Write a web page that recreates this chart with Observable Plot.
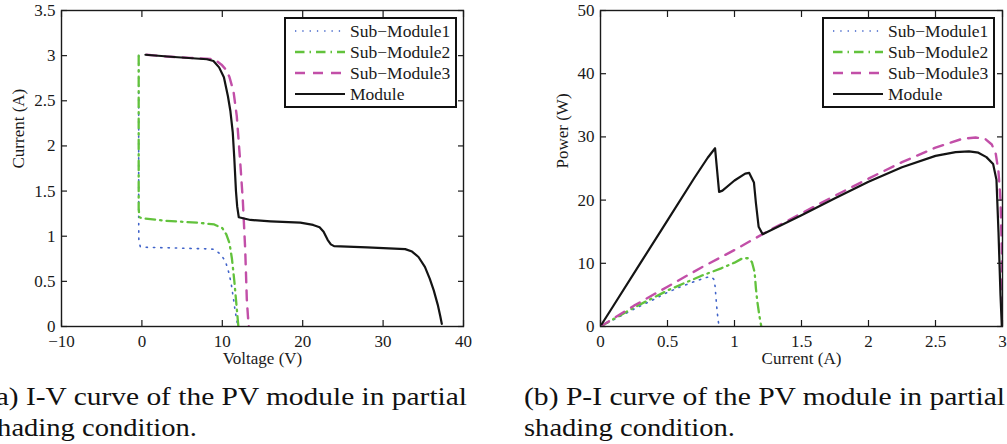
<!DOCTYPE html>
<html><head><meta charset="utf-8">
<script src="https://cdn.jsdelivr.net/npm/d3@7"></script>
<script src="https://cdn.jsdelivr.net/npm/@observablehq/plot@0.6"></script>
<style>
body{margin:0;background:#fff}
#wrap{position:relative;width:1007px;height:444px;overflow:hidden;background:#fff}
.chart{position:absolute;top:0}
#overlay{position:absolute;left:0;top:0}
</style></head><body>
<div id="wrap">
<div id="left" class="chart" style="left:0"></div>
<div id="right" class="chart" style="left:500px"></div>
<svg id="overlay" width="1007" height="444"></svg>
</div>
<script>
// ---- data ----
const seriesNames = ["Sub\u2212Module1", "Sub\u2212Module2", "Sub\u2212Module3", "Module"];

// I-V curves: [voltage (V), current (A)]
const ivSub1 = [[-0.4,3.0],[-0.4,2.0],[-0.4,1.2],[-0.38,0.95],[-0.2,0.885],[0,0.878],[4,0.87],[8,0.86],[9,0.855],[9.8,0.8],[10.4,0.72],[10.8,0.6],[11.1,0.48],[11.4,0.3],[11.6,0.17],[11.8,0.07],[11.9,0.02]];
const ivSub2 = [[-0.4,3.0],[-0.4,2.0],[-0.4,1.3],[-0.3,1.21],[0,1.2],[3,1.17],[7,1.15],[9,1.13],[10,1.09],[10.5,1.02],[10.9,0.92],[11.2,0.75],[11.5,0.5],[11.75,0.25],[11.95,0.05],[12.0,0.0]];
const ivSub3 = [[0.6,3.01],[3,2.99],[6,2.975],[9,2.96],[9.9,2.9],[10.5,2.84],[10.9,2.76],[11.4,2.6],[11.8,2.33],[12.2,1.86],[12.55,1.4],[12.85,0.85],[13.05,0.3],[13.2,0.1],[13.3,0.0]];
const ivModule = [[0.44,3.01],[4,2.985],[8.1,2.96],[8.9,2.94],[9.6,2.87],[10.2,2.76],[10.7,2.55],[11.0,2.39],[11.3,2.15],[11.5,1.85],[11.7,1.5],[11.85,1.33],[12.05,1.21],[13.5,1.18],[16,1.165],[19.7,1.15],[21.3,1.125],[22.1,1.1],[22.6,1.05],[23.1,0.96],[23.5,0.91],[23.9,0.89],[28,0.876],[32.75,0.857],[33.6,0.83],[34.4,0.77],[35.2,0.66],[35.8,0.53],[36.3,0.4],[36.8,0.24],[37.1,0.12],[37.3,0.03]];

// P-I curves: [current (A), power (W)]
const piSub1 = [[0,0],[0.1,1.1],[0.25,2.75],[0.4,4.3],[0.5,5.4],[0.6,6.3],[0.7,7.1],[0.78,7.7],[0.82,7.9],[0.845,7.5],[0.855,6.4],[0.862,4.5],[0.87,2.5],[0.878,1.0],[0.885,0]];
const piSub2 = [[0,0],[0.25,3.0],[0.5,5.7],[0.75,8.0],[0.9,9.2],[1.0,10.1],[1.06,10.8],[1.1,10.8],[1.13,10.2],[1.15,8.6],[1.16,6.0],[1.17,4.0],[1.185,1.8],[1.2,0]];
const piSub3 = [[0,0],[0.25,3.3],[0.5,6.3],[0.75,9.3],[1.0,12.1],[1.25,15.1],[1.5,17.9],[1.75,20.7],[2.0,23.4],[2.25,26.0],[2.5,28.3],[2.7,29.7],[2.8,29.9],[2.87,29.7],[2.92,28.8],[2.95,27.3],[2.97,24.5],[2.985,20],[2.995,12],[3.0,0]];
const piModule = [[0.01,0.4],[0.1,3.4],[0.3,10.1],[0.5,16.8],[0.7,23.5],[0.8,26.7],[0.855,28.2],[0.885,21.3],[0.91,21.5],[1.0,23.1],[1.08,24.2],[1.11,24.3],[1.145,22.8],[1.16,19.5],[1.18,15.8],[1.21,14.6],[1.5,17.6],[1.75,20.3],[2.0,22.9],[2.25,25.2],[2.5,27.0],[2.65,27.6],[2.75,27.7],[2.82,27.5],[2.88,26.8],[2.93,25.7],[2.955,23.2],[2.97,15],[2.985,5],[2.995,0]];

const ivXTicks = [-10, 0, 10, 20, 30, 40];
const ivYTicks = [0, 0.5, 1, 1.5, 2, 2.5, 3, 3.5];
const piXTicks = [0, 0.5, 1, 1.5, 2, 2.5, 3];
const piYTicks = [0, 10, 20, 30, 40, 50];

const captionA = ["(a) I-V curve of the PV module in partial", "shading condition."];
const captionB = ["(b) P-I curve of the PV module in partial", "shading condition."];

// ---- styles ----
const colors = ["#4063c9", "#62c23c", "#c24fa8", "#141414"];
const dashes = ["1.3,6", "9.5,5,1.5,5", "10,8", null];
const widths = [1.6, 2.3, 2.4, 2.2];
const FONT = "Liberation Serif, serif";

const fmt = d => d < 0 ? "\u2212" + Math.abs(d) : String(d);

function lines(list) {
  return list.map((pts, i) => Plot.line(pts, {
    x: d => d[0], y: d => d[1],
    stroke: colors[i], strokeWidth: widths[i], strokeDasharray: dashes[i],
    strokeLinejoin: "round", clip: true
  }));
}

function makeChart(o) {
  return Plot.plot({
    width: o.width, height: 370,
    marginLeft: o.marginLeft, marginRight: o.marginRight, marginTop: 10, marginBottom: 44,
    style: {fontFamily: FONT, fontSize: "17px", color: "#1a1a1a", background: "transparent", overflow: "visible"},
    x: {domain: o.xDomain},
    y: {domain: o.yDomain},
    marks: [
      ...lines(o.series),
      Plot.frame({stroke: "#1a1a1a", strokeWidth: 1.4}),
      Plot.axisX(o.xTicks, {anchor: "bottom", tickSize: -6, fill: "none", strokeWidth: 1.2}),
      Plot.axisX(o.xTicks, {anchor: "top", tickSize: -6, fill: "none", strokeWidth: 1.2}),
      Plot.axisY(o.yTicks, {anchor: "left", tickSize: -6, fill: "none", strokeWidth: 1.2}),
      Plot.axisY(o.yTicks, {anchor: "right", tickSize: -6, fill: "none", strokeWidth: 1.2}),
      Plot.axisX(o.xTicks, {anchor: "bottom", tickSize: 0, tickPadding: 8, tickFormat: fmt, label: null}),
      Plot.axisY(o.yTicks, {anchor: "left", tickSize: 0, tickPadding: 6, tickFormat: fmt, label: null}),
      Plot.text([o.xLabel], {frameAnchor: "bottom", dy: 37, text: d => d}),
      Plot.text([o.yLabel], {frameAnchor: "left", dx: o.yLabelDx, rotate: -90, text: d => d})
    ]
  });
}

document.getElementById("left").append(makeChart({
  width: 490, marginLeft: 61, marginRight: 27,
  xDomain: [-10, 40], yDomain: [0, 3.5], xTicks: ivXTicks, yTicks: ivYTicks,
  xLabel: "Voltage (V)", yLabel: "Current (A)", yLabelDx: -43,
  series: [ivSub1, ivSub2, ivSub3, ivModule]
}));
document.getElementById("right").append(makeChart({
  width: 507, marginLeft: 100, marginRight: 5,
  xDomain: [0, 3], yDomain: [0, 50], xTicks: piXTicks, yTicks: piYTicks,
  xLabel: "Current (A)", yLabel: "Power (W)", yLabelDx: -38,
  series: [piSub1, piSub2, piSub3, piModule]
}));

// ---- legends and captions ----
const svg = d3.select("#overlay");
function legend(x0) {
  const g = svg.append("g").attr("transform", `translate(${x0},0)`);
  g.append("rect").attr("x", 0).attr("y", 18).attr("width", 171).attr("height", 89)
    .attr("fill", "#fff").attr("stroke", "#111").attr("stroke-width", 2);
  seriesNames.forEach((name, i) => {
    const y = 31 + i * 21;
    g.append("line").attr("x1", 10).attr("x2", 60).attr("y1", y).attr("y2", y)
      .attr("stroke", colors[i]).attr("stroke-width", widths[i])
      .attr("stroke-dasharray", dashes[i]);
    g.append("text").attr("x", 65).attr("y", y).attr("dy", "0.35em")
      .attr("font-family", FONT).attr("font-size", 17.5).attr("fill", "#1a1a1a").text(name);
  });
}
legend(285);
legend(823);

function caption(lines, x) {
  const lens = [481, 211];
  const base = [405, 436];
  lines.forEach((t, i) => {
    svg.append("text").attr("x", x).attr("y", base[i])
      .attr("font-family", FONT).attr("font-size", 26).attr("fill", "#111")
      .attr("textLength", lens[i]).attr("lengthAdjust", "spacingAndGlyphs").text(t);
  });
}
caption(captionA, -14);
caption(captionB, 524);
</script>
</body></html>
